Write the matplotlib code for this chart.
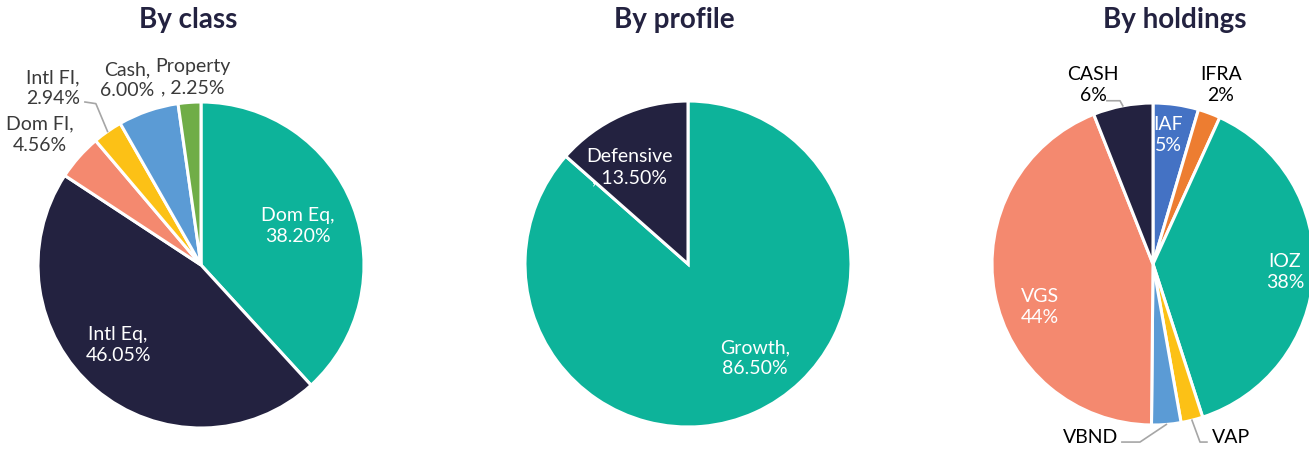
import numpy as np
import matplotlib.pyplot as plt

# --- data -------------------------------------------------------------
class_labels = ["Dom Eq", "Intl Eq", "Dom FI", "Intl FI", "Cash", "Property"]
class_values = [38.20, 46.05, 4.56, 2.94, 6.00, 2.25]

profile_labels = ["Growth", "Defensive"]
profile_values = [86.50, 13.50]

holding_labels = ["IAF", "IFRA", "IOZ", "VAP", "VBND", "VGS", "CASH"]
holding_values = [4.56, 2.25, 38.20, 2.20, 2.94, 43.85, 6.00]

# --- style ------------------------------------------------------------
TEAL = "#0db39a"
NAVY = "#232240"
SALMON = "#f4896f"
YELLOW = "#fcc116"
LBLUE = "#5b9bd5"
GREEN = "#70ad47"
BLUE = "#4472c4"
ORANGE = "#ed7d31"
GREY_TXT = "#3a3a3a"
LEADER = "#a6a6a6"

class_colors = [TEAL, NAVY, SALMON, YELLOW, LBLUE, GREEN]
profile_colors = [TEAL, NAVY]
holding_colors = [BLUE, ORANGE, TEAL, YELLOW, LBLUE, SALMON, NAVY]

plt.rcParams["font.family"] = ["Lato", "DejaVu Sans"]

W, H = 1309, 450
fig = plt.figure(figsize=(W / 100, H / 100), dpi=100)


def pie_axes(cx, cy, r):
    """Axes whose unit circle sits at pixel centre (cx, cy) with radius r."""
    return fig.add_axes([(cx - r) / W, (H - cy - r) / H, 2 * r / W, 2 * r / H])


def draw(ax, values, colors, texts, layout, leaders):
    wedges, _ = ax.pie(values, colors=colors, startangle=90, counterclock=False,
                       radius=1, wedgeprops=dict(edgecolor="white", linewidth=2.2))
    # pie() resets the limits, so pin the unit circle to the axes box again
    ax.set_xlim(-1, 1)
    ax.set_ylim(-1, 1)
    ax.set_axis_off()
    for w, txt, lay in zip(wedges, texts, layout):
        x, y, color, ha = lay
        ax.text(x, y, txt, ha=ha, va="center", color=color, fontsize=14,
                linespacing=1.3, clip_on=False)
    for idx, pts in leaders.items():
        w = wedges[idx]
        mid = np.deg2rad((w.theta1 + w.theta2) / 2)
        xs = [p[0] for p in pts] + [np.cos(mid)]
        ys = [p[1] for p in pts] + [np.sin(mid)]
        ax.plot(xs, ys, color=LEADER, lw=1.2, clip_on=False)


# By class
ax1 = pie_axes(201, 265, 163)
class_texts = [f"{l},\n{v:.2f}%" for l, v in zip(class_labels, class_values)]
class_texts[5] = f"{class_labels[5]}\n, {class_values[5]:.2f}%"
class_layout = [
    (0.595, 0.239, "white", "center"),
    (-0.509, -0.491, "white", "center"),
    (-0.988, 0.798, GREY_TXT, "center"),
    (-0.908, 1.086, GREY_TXT, "center"),
    (-0.454, 1.135, GREY_TXT, "center"),
    (-0.049, 1.153, GREY_TXT, "center"),
]
draw(ax1, class_values, class_colors, class_texts, class_layout,
     {3: [(-0.712, 1.00), (-0.645, 0.99)]})

# By profile
ax2 = pie_axes(688, 264, 163)
profile_texts = [f"{profile_labels[0]},\n{profile_values[0]:.2f}%",
                 f"{profile_labels[1]}\n, {profile_values[1]:.2f}%"]
profile_layout = [
    (0.411, -0.577, "white", "center"),
    (-0.356, 0.595, "white", "center"),
]
draw(ax2, profile_values, profile_colors, profile_texts, profile_layout, {})

# By holdings
ax3 = pie_axes(1153, 264, 161)
holding_texts = [f"{l}\n{v:.0f}%" for l, v in zip(holding_labels, holding_values)]
holding_texts[3] = holding_labels[3]
holding_texts[4] = holding_labels[4]
holding_layout = [
    (0.093, 0.801, "white", "center"),
    (0.422, 1.112, "black", "center"),
    (0.82, -0.05, "white", "center"),
    (0.366, -1.080, "black", "left"),
    (-0.217, -1.080, "black", "right"),
    (-0.702, -0.267, "white", "center"),
    (-0.373, 1.112, "black", "center"),
]
draw(ax3, holding_values, holding_colors, holding_texts, holding_layout,
     {3: [(0.335, -1.106), (0.292, -1.106)],
      4: [(-0.193, -1.106), (-0.081, -1.106)],
      6: [(-0.286, 1.014), (-0.205, 1.014)]})

# titles
for x, t in [(188, "By class"), (674, "By profile"), (1175, "By holdings")]:
    fig.text(x / W, 1 - 20 / H, t, ha="center", va="center", fontsize=20,
             fontweight="bold", color=NAVY)

fig.savefig("out.png", dpi=100)
